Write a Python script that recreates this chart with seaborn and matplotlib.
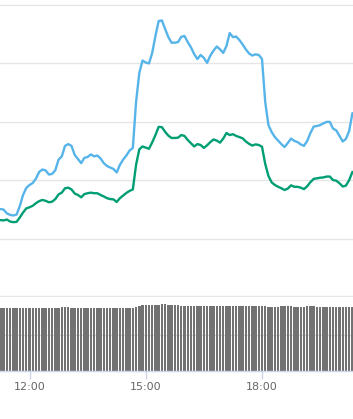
import numpy as np
import pandas as pd
import matplotlib
matplotlib.use('Agg')
import matplotlib.pyplot as plt
import seaborn as sns

# 5-minute samples from 11:15 to 20:20
times = pd.date_range("2024-01-01 11:15", periods=110, freq="5min")
hours = times.hour + times.minute / 60.0

series_blue = [
    30.1, 29.9, 28.6, 28.1, 27.9, 28.2, 31.1, 34.9, 37.3, 38.3,
    39.0, 40.5, 42.8, 43.6, 43.3, 41.9, 42.1, 43.4, 47.0, 48.1,
    51.7, 52.3, 51.7, 48.6, 47.2, 45.8, 47.6, 47.9, 48.8, 48.1,
    48.4, 47.4, 45.8, 44.8, 44.3, 43.8, 42.6, 45.2, 47.0, 48.4,
    50.1, 51.0, 66.7, 76.6, 80.9, 80.2, 79.9, 83.5, 89.3, 94.4,
    94.6, 91.7, 88.9, 87.0, 87.0, 87.2, 89.0, 89.3, 87.2, 85.4,
    83.1, 81.4, 82.8, 81.8, 80.1, 82.6, 84.3, 85.7, 84.7, 83.5,
    85.9, 90.3, 88.9, 89.1, 87.9, 86.4, 84.7, 83.3, 82.6, 83.0,
    82.8, 81.4, 66.7, 58.8, 56.4, 54.7, 53.5, 52.3, 51.3, 52.7,
    54.2, 53.4, 53.0, 52.2, 51.7, 53.4, 56.1, 58.3, 58.5, 58.8,
    59.4, 59.9, 59.9, 57.6, 57.0, 55.1, 53.2, 54.1, 56.8, 62.9,
]

series_green = [
    26.3, 26.2, 26.5, 25.8, 25.6, 25.7, 27.2, 28.9, 30.3, 30.7,
    31.2, 32.1, 32.8, 33.2, 32.9, 32.4, 32.6, 33.5, 35.1, 35.7,
    37.2, 37.4, 36.8, 35.4, 34.9, 34.1, 35.2, 35.5, 35.7, 35.5,
    35.5, 34.9, 34.4, 33.8, 33.5, 33.4, 32.5, 33.8, 34.7, 35.6,
    36.3, 36.8, 45.2, 50.5, 51.5, 51.1, 50.7, 52.9, 55.4, 58.2,
    58.1, 56.5, 55.2, 54.4, 54.4, 54.5, 55.4, 55.1, 53.7, 52.6,
    51.5, 52.3, 52.0, 51.0, 51.9, 53.0, 53.9, 53.5, 52.8, 54.2,
    56.1, 55.4, 55.7, 55.1, 54.7, 54.3, 53.2, 52.4, 51.8, 52.2,
    52.0, 51.4, 45.5, 41.4, 39.2, 38.3, 37.7, 37.2, 36.6, 37.1,
    38.2, 37.7, 37.7, 37.4, 36.9, 37.9, 39.3, 40.4, 40.6, 40.8,
    40.9, 41.2, 41.2, 40.0, 39.8, 38.9, 37.8, 38.1, 40.0, 42.8,
]

volume = (
    [88.2] * 19 + [89.6] * 3 + [88.2] * 20 + [89.6, 91.0]
    + [92.4] * 6 + [93.8] * 2 + [92.4] * 4 + [91.0] * 27
    + [89.6] * 4 + [91.0] * 4 + [89.6] * 4 + [91.0] * 3 + [89.6] * 12
)

tick_hours = [12, 15, 18]
tick_labels = ["12:00", "15:00", "18:00"]

df = pd.DataFrame({"hour": hours, "blue": series_blue,
                   "green": series_green, "volume": volume})

sns.set_style("white")
plt.rcParams['font.family'] = ['DejaVu Sans']

fig = plt.figure(figsize=(3.53, 4.19), dpi=100)
ax = fig.add_axes([0, 1 - 297 / 419, 1, 297 / 419])
axb = fig.add_axes([0, 1 - 371 / 419, 1, 74 / 419])

xmin, xmax = 12 - 29.5 / 38.75, 12 + (353 - 29.5) / 38.75

# price lines
sns.lineplot(data=df, x="hour", y="blue", ax=ax, color="#56B4E9", lw=1.7)
sns.lineplot(data=df, x="hour", y="green", ax=ax, color="#009E73", lw=1.7)
ax.set_xlim(xmin, xmax)
ax.set_ylim(0, 101.6)
ax.set_yticks([20, 40, 60, 80, 100])
ax.grid(axis='y', color="#e6e6e6", lw=1)
ax.axhline(0, color="#e6e6e6", lw=2.5, zorder=0)
ax.set_xticks([])
ax.set_yticklabels([])
ax.tick_params(left=False)
ax.set_xlabel("")
ax.set_ylabel("")
for s in ax.spines.values():
    s.set_visible(False)

# volume bars
sns.barplot(data=df, x="hour", y="volume", ax=axb, native_scale=True,
            color="#727272", width=0.76, saturation=1, linewidth=0)
axb.set_xlim(xmin, xmax)
axb.set_ylim(0, 103.6)
axb.set_yticks([50])
axb.grid(axis='y', color="#d9d9d9", lw=1)
axb.set_axisbelow(True)
axb.set_yticklabels([])
axb.tick_params(left=False)
axb.set_xticks(tick_hours)
axb.set_xticklabels(tick_labels)
axb.tick_params(axis='x', bottom=True, length=5.5, width=1, color="#ccd6eb",
                labelsize=8, labelcolor="#666666", pad=2.5)
axb.set_xlabel("")
axb.set_ylabel("")
for s in axb.spines.values():
    s.set_visible(False)
axb.spines['bottom'].set_visible(True)
axb.spines['bottom'].set_color("#ccd6eb")
axb.spines['bottom'].set_linewidth(1)

fig.savefig("out.png", dpi=100)
